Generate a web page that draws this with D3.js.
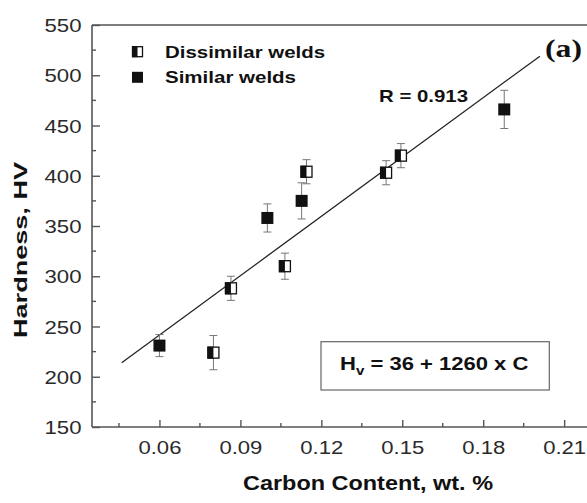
<!DOCTYPE html>
<html>
<head>
<meta charset="utf-8">
<script src="https://cdn.jsdelivr.net/npm/d3@7"></script>
<style>
  html, body { margin: 0; padding: 0; background: #fff; }
  svg { display: block; }
  text { font-family: "Liberation Sans", Arial, sans-serif; }
</style>
</head>
<body>
<svg id="chart" width="587" height="503"></svg>
<script>
// Carbon content (wt. %) vs Vickers hardness
const dissimilarC   = [0.080, 0.0865, 0.1065, 0.1145, 0.144, 0.1495];
const dissimilarHV  = [224, 288, 310, 404, 403, 420];
const dissimilarErr = [17, 12, 13, 12, 12, 12];

const similarC   = [0.060, 0.100, 0.1127, 0.1878];
const similarHV  = [231, 358, 375, 466];
const similarErr = [11, 14, 18, 19];

// Fitted trend line end points
const fitC  = [0.046, 0.201];
const fitHV = [214, 519];

const xTicks = [0.06, 0.09, 0.12, 0.15, 0.18, 0.21];
const xMinorTicks = [0.045, 0.075, 0.105, 0.135, 0.165, 0.195];
const yTicks = [150, 200, 250, 300, 350, 400, 450, 500, 550];
const yMinorTicks = [175, 225, 275, 325, 375, 425, 475, 525];

const svg = d3.select("#chart");
const plotLeft = 92, plotTop = 25, plotBottom = 427;

const x = d3.scaleLinear().domain([0.035, 0.22]).range([plotLeft, plotLeft + 0.185 * 2698]);
const y = d3.scaleLinear().domain([150, 550]).range([plotBottom, plotTop]);

const axisColor = "#555";

// Frame: left axis, bottom axis, top border
svg.append("line").attr("x1", plotLeft).attr("x2", plotLeft).attr("y1", plotTop).attr("y2", plotBottom)
  .attr("stroke", axisColor).attr("stroke-width", 1.6);
svg.append("line").attr("x1", plotLeft).attr("x2", 600).attr("y1", plotBottom).attr("y2", plotBottom)
  .attr("stroke", axisColor).attr("stroke-width", 1.6);
svg.append("line").attr("x1", plotLeft).attr("x2", 600).attr("y1", plotTop).attr("y2", plotTop)
  .attr("stroke", axisColor).attr("stroke-width", 1.6);

// Axes with inward ticks
const xAxis = d3.axisBottom(x).tickValues(xTicks).tickSize(-7).tickFormat(d3.format(".2f")).tickPadding(14);
const gx = svg.append("g").attr("transform", `translate(0,${plotBottom})`).call(xAxis);
gx.select(".domain").remove();
gx.selectAll(".tick line").attr("stroke", axisColor).attr("stroke-width", 1.4);
gx.selectAll(".tick text")
  .attr("font-size", 18).attr("fill", "#2a2a2a")
  .attr("textLength", 43).attr("lengthAdjust", "spacingAndGlyphs")
  .attr("dy", null).attr("y", 26.5);

svg.append("g").selectAll("line").data(xMinorTicks).join("line")
  .attr("x1", d => x(d)).attr("x2", d => x(d))
  .attr("y1", plotBottom).attr("y2", plotBottom - 4)
  .attr("stroke", axisColor).attr("stroke-width", 1.4);

const yAxis = d3.axisLeft(y).tickValues(yTicks).tickSize(-8).tickPadding(10);
const gy = svg.append("g").attr("transform", `translate(${plotLeft},0)`).call(yAxis);
gy.select(".domain").remove();
gy.selectAll(".tick line").attr("stroke", axisColor).attr("stroke-width", 1.4);
gy.selectAll(".tick text")
  .attr("font-size", 18).attr("fill", "#2a2a2a")
  .attr("textLength", 37).attr("lengthAdjust", "spacingAndGlyphs")
  .attr("x", -10.5).attr("dy", "0.37em");

svg.append("g").selectAll("line").data(yMinorTicks).join("line")
  .attr("x1", plotLeft).attr("x2", plotLeft + 4)
  .attr("y1", d => y(d)).attr("y2", d => y(d))
  .attr("stroke", axisColor).attr("stroke-width", 1.4);

// Axis titles
svg.append("text")
  .attr("x", 368).attr("y", 490)
  .attr("text-anchor", "middle")
  .attr("font-size", 21).attr("font-weight", "bold").attr("fill", "#111")
  .attr("textLength", 250).attr("lengthAdjust", "spacingAndGlyphs")
  .text("Carbon Content, wt. %");

svg.append("text")
  .attr("transform", "translate(27,250) rotate(-90)")
  .attr("text-anchor", "middle")
  .attr("font-size", 19).attr("font-weight", "bold").attr("fill", "#111")
  .attr("textLength", 176).attr("lengthAdjust", "spacingAndGlyphs")
  .text("Hardness, HV");

// Trend line
svg.append("line")
  .attr("x1", x(fitC[0])).attr("y1", y(fitHV[0]))
  .attr("x2", x(fitC[1])).attr("y2", y(fitHV[1]))
  .attr("stroke", "#222").attr("stroke-width", 1.3);

// Error bars
function errorBars(cs, hvs, errs) {
  const g = svg.append("g").attr("stroke", "#777").attr("stroke-width", 1);
  cs.forEach((c, i) => {
    const cx = x(c), yt = y(hvs[i] + errs[i]), yb = y(hvs[i] - errs[i]);
    g.append("line").attr("x1", cx).attr("x2", cx).attr("y1", yt).attr("y2", yb);
    g.append("line").attr("x1", cx - 4).attr("x2", cx + 4).attr("y1", yt).attr("y2", yt);
    g.append("line").attr("x1", cx - 4).attr("x2", cx + 4).attr("y1", yb).attr("y2", yb);
  });
}
errorBars(similarC, similarHV, similarErr);
errorBars(dissimilarC, dissimilarHV, dissimilarErr);

const ms = 12;
// Half-filled square marker
function halfSquare(g, cx, cy, s) {
  g.append("rect").attr("x", cx - s / 2 + 0.5).attr("y", cy - s / 2 + 0.5)
    .attr("width", s - 1).attr("height", s - 1)
    .attr("fill", "#fff").attr("stroke", "#111").attr("stroke-width", 1.3);
  g.append("rect").attr("x", cx - s / 2).attr("y", cy - s / 2)
    .attr("width", s / 2).attr("height", s).attr("fill", "#111");
}
function fullSquare(g, cx, cy, s) {
  g.append("rect").attr("x", cx - s / 2).attr("y", cy - s / 2)
    .attr("width", s).attr("height", s).attr("fill", "#111");
}

const gs = svg.append("g");
similarC.forEach((c, i) => fullSquare(gs, x(c), y(similarHV[i]), ms));
const gd = svg.append("g");
dissimilarC.forEach((c, i) => halfSquare(gd, x(c), y(dissimilarHV[i]), ms));

// Legend
const lg = svg.append("g");
halfSquare(lg, 137.5, 51.7, 11);
fullSquare(lg, 137.5, 77.3, 11);
lg.append("text").attr("x", 165).attr("y", 57.5)
  .attr("font-size", 16).attr("font-weight", "bold").attr("fill", "#111")
  .attr("textLength", 160).attr("lengthAdjust", "spacingAndGlyphs")
  .text("Dissimilar welds");
lg.append("text").attr("x", 165).attr("y", 83)
  .attr("font-size", 16).attr("font-weight", "bold").attr("fill", "#111")
  .attr("textLength", 131).attr("lengthAdjust", "spacingAndGlyphs")
  .text("Similar welds");

// Annotations
svg.append("text").attr("x", 379).attr("y", 101.5)
  .attr("font-size", 17).attr("font-weight", "bold").attr("fill", "#111")
  .attr("textLength", 89).attr("lengthAdjust", "spacingAndGlyphs")
  .text("R = 0.913");

svg.append("text").attr("x", 545).attr("y", 56.5)
  .style("font-family", "'Liberation Serif', 'Times New Roman', serif")
  .attr("font-size", 26).attr("font-weight", "bold").attr("fill", "#111")
  .attr("textLength", 37).attr("lengthAdjust", "spacingAndGlyphs")
  .text("(a)");

// Equation box
svg.append("rect").attr("x", 321).attr("y", 341.7).attr("width", 228.3).attr("height", 48.3)
  .attr("fill", "#fff").attr("stroke", "#666").attr("stroke-width", 1.2);
const eq = svg.append("text")
  .attr("transform", "translate(340,370) scale(1.16,1)")
  .attr("font-size", 19).attr("font-weight", "bold").attr("fill", "#111");
eq.append("tspan").text("H");
eq.append("tspan").attr("font-size", 13).attr("dy", 5).text("v");
eq.append("tspan").attr("dy", -5).text(" = 36 + 1260 x C");
</script>
</body>
</html>
